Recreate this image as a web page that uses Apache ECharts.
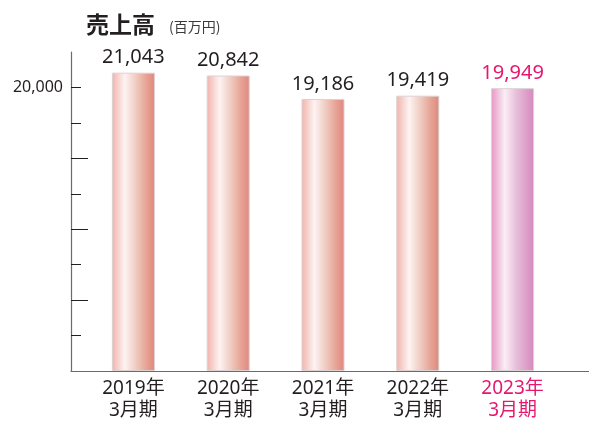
<!DOCTYPE html>
<html>
<head>
<meta charset="utf-8">
<script src="https://cdn.jsdelivr.net/npm/echarts@6/dist/echarts.min.js"></script>
<style>
  html, body { margin: 0; padding: 0; background: #fff; }
  #chart { width: 589px; height: 422px; }
</style>
</head>
<body>
<div id="chart"></div>
<script>
const years = ['2019年', '2020年', '2021年', '2022年', '2023年']
const periods = ['3月期', '3月期', '3月期', '3月期', '3月期']
const sales = [21043, 20842, 19186, 19419, 19949]
const labelTicks = [20000]
const shortTicks = [2500, 7500, 12500, 17500, 20000]
const longTicks = [5000, 10000, 15000]

const font = '"Noto Sans", "Noto Sans CJK JP", sans-serif'
const cjkFont = '"Noto Sans CJK JP", sans-serif'
const textColor = '#231f20'
const pink = '#e6176f'
const lastIndex = sales.length - 1

// 棒のグラデーション
const normalGrad = new echarts.graphic.LinearGradient(0, 0, 1, 0, [
  { offset: 0, color: '#f2b2aa' },
  { offset: 0.3, color: '#fdf3f2' },
  { offset: 0.55, color: '#f0cdc3' },
  { offset: 0.8, color: '#e7a395' },
  { offset: 1, color: '#df877e' }
])
const lastGrad = new echarts.graphic.LinearGradient(0, 0, 1, 0, [
  { offset: 0, color: '#e894c4' },
  { offset: 0.32, color: '#fbeef6' },
  { offset: 0.6, color: '#e6bcd8' },
  { offset: 1, color: '#d589bd' }
])

const barData = sales.map((v, i) => {
  const last = i === lastIndex
  return {
    value: v,
    itemStyle: { color: last ? lastGrad : normalGrad },
    label: { color: last ? pink : textColor }
  }
})

const option = {
  animation: false,
  title: {
    text: '{t|売上高}{s|(百万円)}',
    left: 81,
    top: 8,
    textStyle: {
      fontWeight: 'normal',
      rich: {
        t: { fontFamily: cjkFont, fontSize: 23, fontWeight: 'bold', color: textColor, padding: [0, 14, 0, 0] },
        s: { fontFamily: cjkFont, fontSize: 14, fontWeight: 'normal', color: '#3a3a3a', padding: [5, 0, 0, 0] }
      }
    }
  },
  grid: [
    { left: 86, right: 29, top: 52, bottom: 51 },
    { left: 71, right: 0, top: 52, bottom: 51 }
  ],
  xAxis: [
    {
      type: 'category',
      gridIndex: 0,
      data: years,
      axisLine: { show: false },
      axisTick: { show: false },
      axisLabel: {
        margin: 7,
        interval: 0,
        formatter: (val, i) => {
          const k = i === lastIndex ? 'p' : 'a'
          return '{' + k + '|' + val + '}\n{' + k + '|' + periods[i] + '}'
        },
        rich: {
          a: { fontFamily: font, fontSize: 19, lineHeight: 22, color: textColor },
          p: { fontFamily: font, fontSize: 19, lineHeight: 22, color: pink }
        }
      }
    },
    {
      type: 'value',
      gridIndex: 1,
      min: 0,
      max: 1,
      axisLine: { show: true, lineStyle: { color: '#6b6b6b', width: 1.2 } },
      axisTick: { show: false },
      axisLabel: { show: false },
      splitLine: { show: false }
    }
  ],
  yAxis: [
    {
      type: 'value',
      gridIndex: 0,
      min: 0,
      max: 22500,
      show: false,
      splitLine: { show: false }
    },
    {
      type: 'value',
      gridIndex: 1,
      position: 'left',
      min: 0,
      max: 22500,
      axisLine: { show: true, lineStyle: { color: '#6b6b6b', width: 1.2 } },
      axisTick: {
        show: true,
        inside: true,
        length: 10,
        customValues: shortTicks,
        lineStyle: { color: textColor, width: 1 }
      },
      axisLabel: {
        show: true,
        margin: 8,
        customValues: labelTicks,
        formatter: (v) => v.toLocaleString('en-US'),
        fontFamily: font,
        fontSize: 16,
        color: textColor
      },
      splitLine: { show: false }
    },
    {
      type: 'value',
      gridIndex: 1,
      position: 'left',
      offset: 0,
      min: 0,
      max: 22500,
      axisLine: { show: false },
      axisTick: {
        show: true,
        inside: true,
        length: 17,
        customValues: longTicks,
        lineStyle: { color: textColor, width: 1 }
      },
      axisLabel: { show: false },
      splitLine: { show: false }
    }
  ],
  series: [
    {
      type: 'bar',
      xAxisIndex: 0,
      yAxisIndex: 0,
      barWidth: 43,
      itemStyle: { borderColor: '#dcd2d2', borderWidth: 1 },
      label: {
        show: true,
        position: 'top',
        distance: 5,
        fontFamily: font,
        fontSize: 20,
        formatter: (p) => p.value.toLocaleString('en-US')
      },
      data: barData
    }
  ]
}

const myChart = echarts.init(document.getElementById('chart'))
myChart.setOption(option)
</script>
</body>
</html>
